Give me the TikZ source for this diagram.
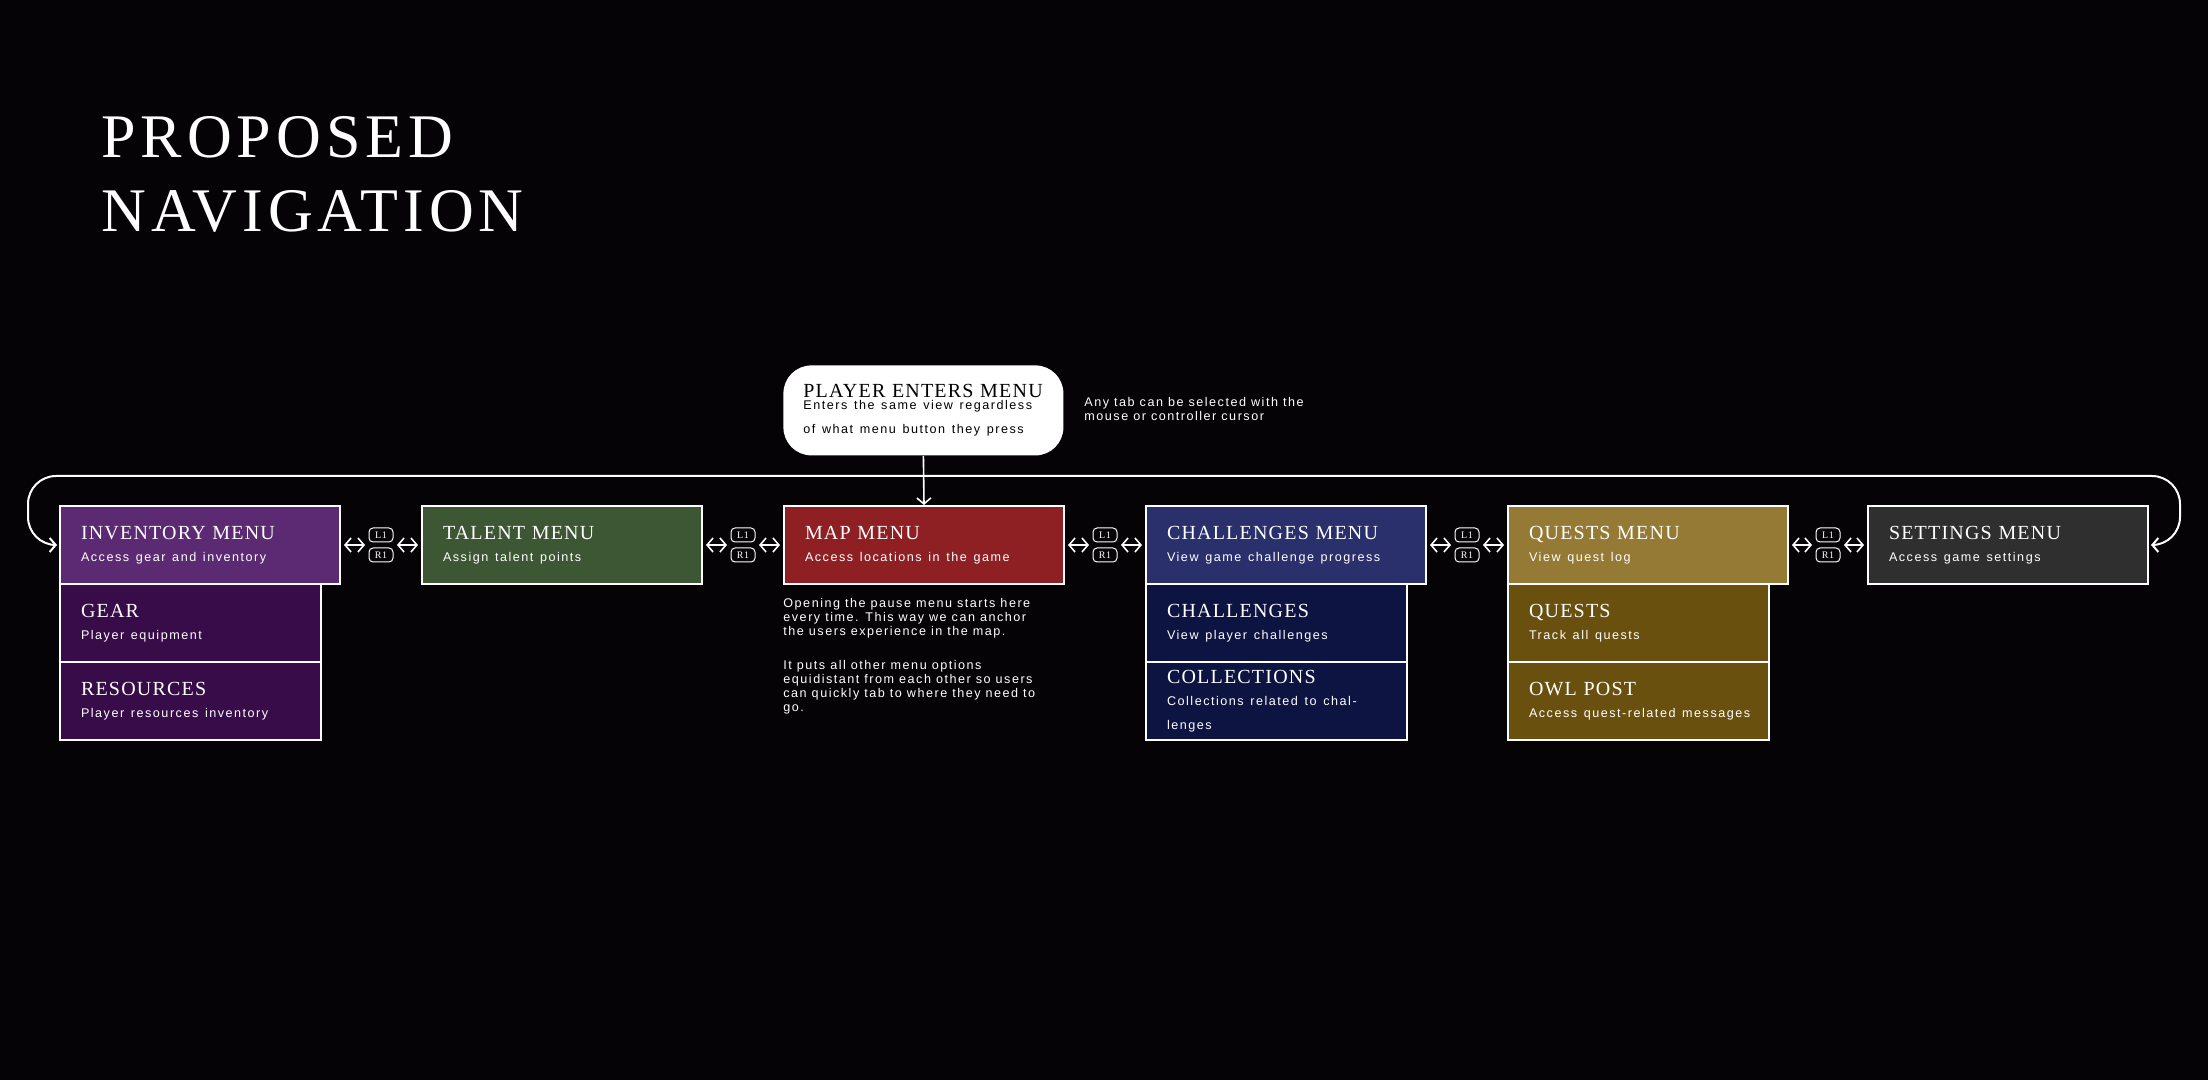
\documentclass[tikz,border=0pt]{standalone}
\usepackage{fontspec}
\setmainfont{Liberation Serif}
\newfontfamily\hdf[LetterSpace=6]{Liberation Serif}
\newfontfamily\ttlf[LetterSpace=8]{Liberation Serif}
\newfontfamily\sbf[LetterSpace=12]{Liberation Sans}
\usetikzlibrary{arrows.meta}
\definecolor{bg}{HTML}{050305}
\definecolor{invc}{HTML}{5B2A72}
\definecolor{invs}{HTML}{380C48}
\definecolor{talc}{HTML}{3D5634}
\definecolor{mapc}{HTML}{8E2023}
\definecolor{chac}{HTML}{29306B}
\definecolor{chas}{HTML}{0E1442}
\definecolor{queC}{HTML}{957A35}
\definecolor{ques}{HTML}{6A500E}
\definecolor{setc}{HTML}{2F2F2F}
\tikzset{
  menubox/.style={draw=white, line width=1pt, anchor=north west, minimum width=140pt, minimum height=39pt, text width=119pt, inner xsep=10.5pt, align=left, text=white, fill=#1},
  subbox/.style={menubox=#1, minimum width=130.5pt, text width=109.5pt},
  badge/.style={draw=white, line width=0.5pt, rounded corners=2pt, minimum width=12pt, minimum height=7pt, inner sep=0pt, text=white, font=\hdf\fontsize{5}{5}\selectfont},
  tip/.style={white, line width=0.8pt, {Straight Barb[length=3pt,width=7pt]}-{Straight Barb[length=3pt,width=7pt]}},
  note/.style={anchor=north west, align=left, text=white, inner sep=0pt, font=\sbf\fontsize{6.3}{7}\selectfont}
}
\newcommand{\hdtxt}[2]{{\hdf\fontsize{10}{12}\selectfont #1}\\[-1pt]{\sbf\fontsize{6.3}{8}\selectfont #2}}
\begin{document}
\begin{tikzpicture}[x=0.5pt,y=-0.5pt]
\fill[bg] (0,0) rectangle (2208,1080);
\useasboundingbox (0,0) rectangle (2208,1080);
\node[anchor=west, text=white, inner sep=0pt, font=\ttlf\fontsize{31}{36}\selectfont] (t1) at (101,137) {PROPOSED};
\node[anchor=west, text=white, inner sep=0pt, font=\ttlf\fontsize{31}{36}\selectfont] (t2) at (101,211) {NAVIGATION};

\node[fill=white, rounded corners=14pt, anchor=north west, minimum width=139.5pt, minimum height=45pt, text width=120pt, inner xsep=10pt, align=left] (pl) at (783,365)
  {{\hdf\fontsize{10}{12}\selectfont PLAYER ENTERS MENU}\\[-1pt]{\sbf\fontsize{6.3}{7}\selectfont Enters the same view regardless\\of what menu button they press}};
\node[note] (side) at (1084,397) {Any tab can be selected with the\\mouse or controller cursor};

\node[menubox=invc] (inv) at (59,505) {\hdtxt{INVENTORY MENU}{Access gear and inventory}};
\node[menubox=talc] (tal) at (421,505) {\hdtxt{TALENT MENU}{Assign talent points}};
\node[menubox=mapc] (map) at (783,505) {\hdtxt{MAP MENU}{Access locations in the game}};
\node[menubox=chac] (cha) at (1145,505) {\hdtxt{CHALLENGES MENU}{View game challenge progress}};
\node[menubox=queC] (que) at (1507,505) {\hdtxt{QUESTS MENU}{View quest log}};
\node[menubox=setc] (set) at (1867,505) {\hdtxt{SETTINGS MENU}{Access game settings}};

\node[subbox=invs] (gear) at (59,583) {\hdtxt{GEAR}{Player equipment}};
\node[subbox=invs] (res) at (59,661) {\hdtxt{RESOURCES}{Player resources inventory}};
\node[subbox=chas] (chs) at (1145,583) {\hdtxt{CHALLENGES}{View player challenges}};
\node[subbox=chas] (col) at (1145,661) {\hdtxt{COLLECTIONS}{Collections related to challenges}};
\node[subbox=ques] (qs) at (1507,583) {\hdtxt{QUESTS}{Track all quests}};
\node[subbox=ques] (owl) at (1507,661) {\hdtxt{OWL POST}{Access quest-related messages}};

\node[note] (mn1) at (783,598) {Opening the pause menu starts here\\every time. This way we can anchor\\the users experience in the map.};
\node[note] (mn2) at (783,660) {It puts all other menu options\\equidistant from each other so users\\can quickly tab to where they need to\\go.};

\foreach \a/\b/\n in {inv/tal/1,tal/map/2,map/cha/3,cha/que/4,que/set/5}{
  \path (\a.east) -- (\b.west) coordinate[pos=0.5] (m\n);
  \node[badge] (l\n) at ([yshift=5pt]m\n) {L1};
  \node[badge] (r\n) at ([yshift=-5pt]m\n) {R1};
  \coordinate (pa\n) at ([xshift=-8pt]m\n);
  \coordinate (pb\n) at ([xshift=8pt]m\n);
  \draw[tip] ([xshift=1.5pt]\a.east) -- (pa\n);
  \draw[tip] (pb\n) -- ([xshift=-1.5pt]\b.west);
}

\draw[white, line width=0.8pt, -{Straight Barb[length=3pt,width=7pt]}] (pl.south) -- (map.north);
\coordinate (lc) at (28,476);
\coordinate (rc) at (2180,476);
\draw[white, line width=1pt, rounded corners=14pt, {Straight Barb[length=3pt,width=7pt]}-{Straight Barb[length=3pt,width=7pt]}]
  ([xshift=-1pt]inv.west) -| (lc) -- (rc) |- ([xshift=1pt]set.east);
\end{tikzpicture}
\end{document}
